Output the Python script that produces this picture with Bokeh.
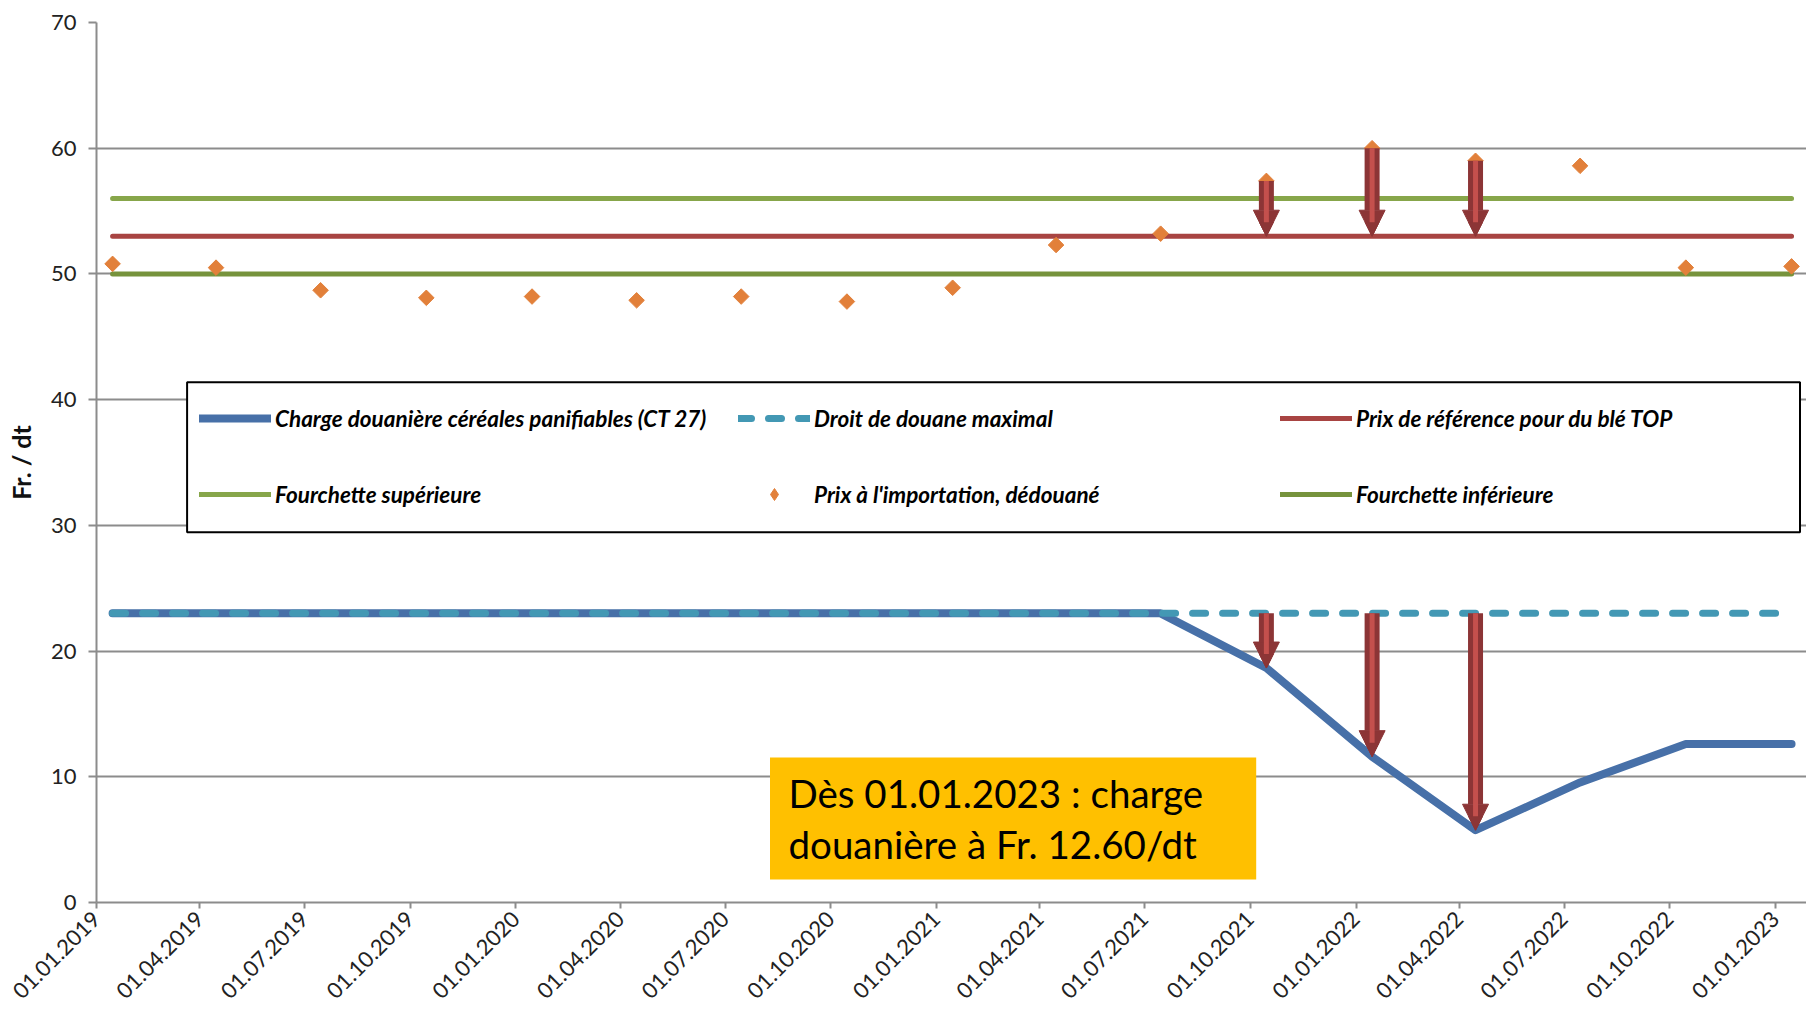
import pandas as pd
from math import pi
from bokeh.plotting import figure
from bokeh.models import (ColumnDataSource, Range1d, FixedTicker, DatetimeTickFormatter,
                          Legend, LegendItem, BoxAnnotation, Label, Arrow, NormalHead)
from bokeh.embed import file_html
from bokeh.resources import INLINE

# ---------------- data ----------------
tick_labels = ["01.01.2019", "01.04.2019", "01.07.2019", "01.10.2019",
               "01.01.2020", "01.04.2020", "01.07.2020", "01.10.2020",
               "01.01.2021", "01.04.2021", "01.07.2021", "01.10.2021",
               "01.01.2022", "01.04.2022", "01.07.2022", "01.10.2022",
               "01.01.2023"]
obs_dates = ["15.01.2019", "15.04.2019", "15.07.2019", "15.10.2019",
             "15.01.2020", "15.04.2020", "15.07.2020", "15.10.2020",
             "15.01.2021", "15.04.2021", "15.07.2021", "15.10.2021",
             "15.01.2022", "15.04.2022", "15.07.2022", "15.10.2022",
             "15.01.2023"]
charge = [23.0, 23.0, 23.0, 23.0, 23.0, 23.0, 23.0, 23.0, 23.0, 23.0, 23.0,
          18.65, 11.6, 5.75, 9.55, 12.6, 12.6]
max_duty = [23.0, 23.0, 23.0, 23.0, 23.0, 23.0, 23.0, 23.0, 23.0, 23.0, 23.0,
            23.0, 23.0, 23.0, 23.0, 23.0, 23.0]
ref_price = [53.0, 53.0, 53.0, 53.0, 53.0, 53.0, 53.0, 53.0, 53.0, 53.0, 53.0,
             53.0, 53.0, 53.0, 53.0, 53.0, 53.0]
upper_band = [56.0, 56.0, 56.0, 56.0, 56.0, 56.0, 56.0, 56.0, 56.0, 56.0, 56.0,
              56.0, 56.0, 56.0, 56.0, 56.0, 56.0]
lower_band = [50.0, 50.0, 50.0, 50.0, 50.0, 50.0, 50.0, 50.0, 50.0, 50.0, 50.0,
              50.0, 50.0, 50.0, 50.0, 50.0, 50.0]
import_price = [50.8, 50.5, 48.7, 48.1, 48.2, 47.9, 48.2, 47.8, 48.9, 52.3, 53.2,
                57.4, 60.0, 59.0, 58.6, 50.5, 50.6]
arrow_index = [11, 12, 13]
y_ticks = [0, 10, 20, 30, 40, 50, 60, 70]

series_names = ["Charge douanière céréales panifiables (CT 27)",
                "Droit de douane maximal",
                "Prix de référence pour du blé TOP",
                "Fourchette supérieure",
                "Prix à l'importation, dédouané",
                "Fourchette inférieure"]
note_text = "Dès 01.01.2023 : charge\ndouanière à Fr. 12.60/dt"
y_title = "Fr. / dt"

# ---------------- sources ----------------
dates = pd.to_datetime(obs_dates, format="%d.%m.%Y")
ticks = pd.to_datetime(tick_labels, format="%d.%m.%Y")
src = ColumnDataSource(dict(x=dates, charge=charge, max_duty=max_duty, ref=ref_price,
                            up=upper_band, low=lower_band, imp=import_price))
arr_up = ColumnDataSource(dict(x=[dates[i] for i in arrow_index],
                               y0=[import_price[i] for i in arrow_index],
                               y1=[ref_price[i] for i in arrow_index]))
arr_dn = ColumnDataSource(dict(x=[dates[i] for i in arrow_index],
                               y0=[max_duty[i] for i in arrow_index],
                               y1=[charge[i] for i in arrow_index]))

FONT = "Lato"
GRAY = "#8C8C8C"

p = figure(width=1806, height=1015, x_axis_type="datetime", output_backend="svg",
           toolbar_location=None,
           x_range=Range1d(pd.Timestamp("2019-01-01"), pd.Timestamp("2023-01-28")),
           y_range=Range1d(0, 70),
           min_border_left=96, min_border_right=0, min_border_top=22, min_border_bottom=113)
p.outline_line_color = None
p.background_fill_color = "white"
p.xgrid.grid_line_color = None
p.ygrid.grid_line_color = GRAY
p.ygrid.grid_line_width = 2
p.ygrid.ticker = FixedTicker(ticks=y_ticks)

# axes
p.yaxis.ticker = FixedTicker(ticks=y_ticks)
p.xaxis.ticker = FixedTicker(ticks=[t.timestamp() * 1000 for t in ticks])
fmt = "%d.%m.%Y"
p.xaxis.formatter = DatetimeTickFormatter(microseconds=fmt, milliseconds=fmt, seconds=fmt,
                                          minsec=fmt, minutes=fmt, hourmin=fmt, hours=fmt,
                                          days=fmt, months=fmt, years=fmt)
for ax in (p.xaxis[0], p.yaxis[0]):
    ax.axis_line_color = GRAY
    ax.axis_line_width = 2
    ax.major_tick_line_color = GRAY
    ax.major_tick_line_width = 2
    ax.minor_tick_line_color = None
    ax.major_tick_in = 0
    ax.major_label_text_font = FONT
    ax.major_label_text_font_size = "22px"
    ax.major_label_text_color = "#222222"
p.yaxis.major_tick_out = 8
p.yaxis.major_label_standoff = 12
p.xaxis.major_tick_out = 6
p.xaxis.major_label_standoff = 7
p.xaxis.major_label_orientation = pi / 4
p.xaxis.major_label_text_baseline = "top"
p.yaxis.axis_label = y_title
p.yaxis.axis_label_text_font = FONT
p.yaxis.axis_label_text_font_style = "bold"
p.yaxis.axis_label_text_font_size = "25px"
p.yaxis.axis_label_text_color = "#111111"
p.yaxis.axis_label_standoff = 12

# glyphs
ORANGE = "#E2803A"
r_charge = p.line("x", "charge", source=src, line_color="#4770A8", line_width=8,
                  line_cap="round", line_join="round")
r_max = p.line("x", "max_duty", source=src, line_color="#4398B4", line_width=7,
               line_dash="13 17", line_cap="round")
r_ref = p.line("x", "ref", source=src, line_color="#A84442", line_width=5, line_cap="round")
r_up = p.line("x", "up", source=src, line_color="#87A64A", line_width=5, line_cap="round")
r_low = p.line("x", "low", source=src, line_color="#76933C", line_width=5, line_cap="round")
r_imp = p.scatter("x", "imp", source=src, marker="square", angle=pi / 4, size=11,
                  fill_color=ORANGE, line_color=ORANGE, line_width=1)
# key swatch for the import price (upright diamond as in the original key), hidden in plot
r_imp_key = p.scatter("x", "imp", source=src, marker="diamond", fill_color=ORANGE,
                      line_color=ORANGE, line_width=1, visible=False)

# arrows
DARK = "#8C3536"
LIGHT = "#C4504D"
for s in (arr_up, arr_dn):
    p.add_layout(Arrow(source=s, x_start="x", y_start="y0", x_end="x", y_end="y1",
                       line_color=DARK, line_width=15,
                       end=NormalHead(size=26, fill_color=DARK, line_color=DARK, line_width=1)))
    p.add_layout(Arrow(source=s, x_start="x", y_start="y0", x_end="x", y_end="y1",
                       line_color=LIGHT, line_width=5,
                       end=NormalHead(size=14, fill_color=DARK, line_color=DARK, line_width=1)))

# legend frame
p.add_layout(BoxAnnotation(left=186.6, right=1799.5, top=381.7, bottom=531.7,
                           left_units="canvas", right_units="canvas",
                           top_units="canvas", bottom_units="canvas",
                           fill_color="white", fill_alpha=1.0,
                           line_color="black", line_width=2, line_alpha=1.0))

cols = [[(series_names[0], r_charge), (series_names[3], r_up)],
        [(series_names[1], r_max), (series_names[4], r_imp_key)],
        [(series_names[2], r_ref), (series_names[5], r_low)]]
col_x = [103, 642, 1184]
col_h = [28, 30, 28]
for items, cx, gh in zip(cols, col_x, col_h):
    sp = 76 - gh
    bottom = 902 - (418 - gh / 2 + 2 * gh + sp)
    lg = Legend(items=[LegendItem(label=t, renderers=[r]) for t, r in items],
                location=(cx, bottom), orientation="vertical",
                glyph_width=72, glyph_height=gh, label_height=gh, spacing=sp,
                padding=0, margin=0, label_standoff=4,
                border_line_color=None, background_fill_alpha=0.0,
                inactive_fill_alpha=0.0,
                label_text_font=FONT, label_text_font_style="bold italic",
                label_text_font_size="22.5px", label_text_color="black")
    p.add_layout(lg)

# note box
p.add_layout(BoxAnnotation(left=769.5, right=1255.7, top=756.9, bottom=879,
                           left_units="canvas", right_units="canvas",
                           top_units="canvas", bottom_units="canvas",
                           fill_color="#FFC000", fill_alpha=1.0, line_color=None))
p.add_layout(Label(x=788, y=769, x_units="canvas", y_units="canvas", text=note_text,
                   text_font=FONT, text_font_size="38.5px", text_color="black",
                   text_baseline="top", text_align="left", text_line_height=1.11))

open("out.html", "w").write(file_html(p, INLINE))
